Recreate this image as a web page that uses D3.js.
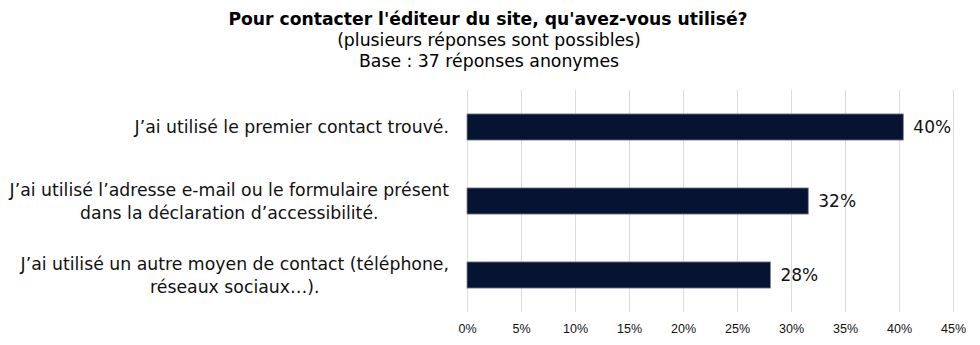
<!DOCTYPE html>
<html><head><meta charset="utf-8">
<script src="https://cdn.jsdelivr.net/npm/d3@7"></script>
<style>html,body{margin:0;padding:0;background:#fff;}</style>
</head><body>
<svg id="chart" width="980" height="345"></svg>
<script>
const titleLines = ["Pour contacter l'éditeur du site, qu'avez-vous utilisé?", "(plusieurs réponses sont possibles)", "Base : 37 réponses anonymes"];
const categories = [
  ["J’ai utilisé le premier contact trouvé."],
  ["J’ai utilisé l’adresse e-mail ou le formulaire présent", "dans la déclaration d’accessibilité."],
  ["J’ai utilisé un autre moyen de contact (téléphone,", "réseaux sociaux…)."]
];
const values = [0.404, 0.316, 0.281];
const tickValues = [0, 0.05, 0.10, 0.15, 0.20, 0.25, 0.30, 0.35, 0.40, 0.45];

const svg = d3.select("#chart");
const m = {left: 467, right: 27, top: 90, bottom: 33};
const W = 980, H = 345;
const x = d3.scaleLinear().domain([0, 0.45]).range([m.left, W - m.right]);
const y = d3.scaleBand().domain(d3.range(categories.length)).range([m.top, H - m.bottom])
  .paddingInner(0.647).paddingOuter(0.3235);

// title
const t = svg.append("g").attr("text-anchor", "middle").attr("font-family", "DejaVu Sans").attr("fill", "#000");
t.append("text").attr("x", 488).attr("y", 24.5).text(titleLines[0])
  .attr("font-weight", "bold").attr("font-size", 17.2);
t.append("text").attr("x", 489).attr("y", 46).text(titleLines[1])
  .attr("font-size", 17.3);
t.append("text").attr("x", 489).attr("y", 67).text(titleLines[2])
  .attr("font-size", 17.3);

// grid
svg.append("g").selectAll("line").data(tickValues).join("line")
  .attr("x1", d => x(d)).attr("x2", d => x(d))
  .attr("y1", m.top).attr("y2", H - m.bottom)
  .attr("stroke", "#dcdcdc").attr("stroke-width", 1).attr("shape-rendering", "crispEdges");

// x axis labels
const xa = svg.append("g").attr("transform", `translate(0,${H - m.bottom})`)
  .call(d3.axisBottom(x).tickValues(tickValues).tickFormat(d3.format(".0%")).tickSize(0).tickPadding(12));
xa.select(".domain").remove();
xa.selectAll("text").attr("font-family", "Liberation Sans, Arial").attr("font-size", 12.5).attr("fill", "#111");

// bars
svg.append("g").selectAll("rect").data(values).join("rect")
  .attr("x", x(0)).attr("y", (d, i) => y(i))
  .attr("width", d => x(d) - x(0)).attr("height", y.bandwidth())
  .attr("fill", "#061432").attr("stroke", "#7d8799").attr("stroke-width", 0.8);

// value labels
svg.append("g").selectAll("text").data(values).join("text")
  .attr("x", d => x(d) + 10).attr("y", (d, i) => y(i) + y.bandwidth() / 2)
  .attr("dy", "0.36em")
  .attr("font-family", "DejaVu Sans").attr("font-size", 17).attr("fill", "#111")
  .text(d => d3.format(".0%")(d));

// category labels
const cl = svg.append("g").selectAll("text").data(categories).join("text")
  .attr("text-anchor", "middle")
  .attr("font-family", "DejaVu Sans").attr("font-size", 17.3).attr("fill", "#111");
cl.each(function(lines, i) {
  const el = d3.select(this);
  const lh = 23;
  const cy = y(i) + y.bandwidth() / 2;
  lines.forEach((ln, j) => {
    el.append("tspan").attr("y", cy + (j - (lines.length - 1) / 2) * lh).attr("dy", "0.35em").text(ln);
  });
  const widths = [];
  el.selectAll("tspan").each(function(){ widths.push(this.getComputedTextLength()); });
  const maxW = d3.max(widths);
  const right = m.left - 18;
  el.selectAll("tspan").attr("x", right - maxW / 2);
});
</script>
</body></html>
